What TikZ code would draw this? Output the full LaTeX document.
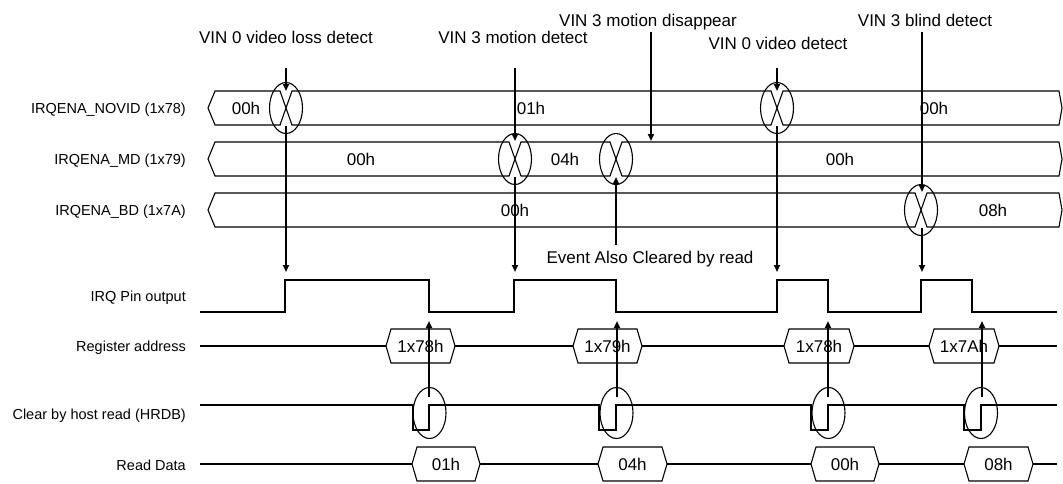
\documentclass[tikz,border=0pt]{standalone}
\usepackage{fontspec}
\setmainfont{Liberation Sans}
\usetikzlibrary{arrows.meta,shapes.geometric}
\newcommand\hexbox[5]{%
  \draw[hexb] (#2,#4) -- (#2+5,#4-17) -- (#3-5,#4-17) -- (#3,#4) -- (#3-5,#4+17) -- (#2+5,#4+17) -- cycle;
  \node[val] (#1) at ({(#2+#3)/2},#4) {#5};}
\begin{document}
\begin{tikzpicture}[x=1pt,y=-1pt,
  sig/.style={line width=1.1pt,line join=miter},
  evarrow/.style={line width=1.8pt,-{Triangle[length=7pt,width=6pt]}},
  ring/.style={draw,ellipse,line width=1.1pt,minimum width=33pt,minimum height=51pt,inner sep=0pt},
  val/.style={font=\fontsize{17}{20}\selectfont,inner sep=0pt},
  lab/.style={font=\fontsize{14.5}{17}\selectfont,anchor=base east,inner sep=0pt},
  ev/.style={font=\fontsize{17}{20}\selectfont,anchor=base,inner sep=0pt},
  hexb/.style={sig,fill=white}]
\useasboundingbox (0,0) rectangle (1063,483);

% left labels
\node[lab] (lnovid) at (186,113) {IRQENA\_NOVID (1x78)};
\node[lab] (lmd)    at (186,164) {IRQENA\_MD (1x79)};
\node[lab] (lbd)    at (186,215) {IRQENA\_BD (1x7A)};
\node[lab] (lirq)   at (186,301) {IRQ Pin output};
\node[lab] (lreg)   at (186,351) {Register address};
\node[lab] (lhrdb)  at (186,419) {Clear by host read (HRDB)};
\node[lab] (lrd)    at (186,470) {Read Data};

% buses
\draw[sig] (215,91) -- (280,91) -- (292,125) -- (771,125) -- (783,91) -- (1059,91) -- (1062,108) -- (1059,125) -- (783,125) -- (771,91) -- (292,91) -- (280,125) -- (215,125) -- (208,108) -- cycle;
\draw[sig] (215,142) -- (509,142) -- (521,176) -- (610,176) -- (622,142) -- (1059,142) -- (1062,159) -- (1059,176) -- (622,176) -- (610,142) -- (521,142) -- (509,176) -- (215,176) -- (208,159) -- cycle;
\draw[sig] (215,193) -- (915,193) -- (927,227) -- (1059,227) -- (1062,210) -- (1059,193) -- (927,193) -- (915,227) -- (215,227) -- (208,210) -- cycle;

% bus values
\node[val] (n1) at (246,108) {00h};
\node[val] (n2) at (531,108) {01h};
\node[val] (n3) at (934,108) {00h};
\node[val] (m1) at (361,159) {00h};
\node[val] (m2) at (565,159) {04h};
\node[val] (m3) at (840,159) {00h};
\node[val] (b1) at (515,210) {00h};
\node[val] (b2) at (993,210) {08h};

% transition rings
\node[ring] (rn1) at (286,108) {};
\node[ring] (rn2) at (777,108) {};
\node[ring] (rm1) at (515,159) {};
\node[ring] (rm2) at (616,159) {};
\node[ring] (rb1) at (921,210) {};

% IRQ pin
\draw[sig] (200,312) -- (285,312) -- (285,280) -- (429,280) -- (429,312) -- (514,312) -- (514,280) -- (616,280) -- (616,312) -- (777,312) -- (777,280) -- (828,280) -- (828,312) -- (921,312) -- (921,280) -- (972,280) -- (972,312) -- (1057,312);

% register address
\draw[sig] (200,346) -- (1057,346);
\hexbox{ra1}{386}{455}{346}{1x78h}
\hexbox{ra2}{573}{642}{346}{1x79h}
\hexbox{ra3}{784}{854}{346}{1x78h}
\hexbox{ra4}{929}{999}{346}{1x7Ah}

% HRDB
\draw[sig] (200,405) -- (413,405) -- (413,430) -- (429,430) -- (429,405) -- (599,405) -- (599,430) -- (616,430) -- (616,405) -- (811,405) -- (811,430) -- (828,430) -- (828,405) -- (964,405) -- (964,430) -- (981,430) -- (981,405) -- (1057,405);
\node[ring] (rh1) at (429.5,413) {};
\node[ring] (rh2) at (616.5,413) {};
\node[ring] (rh3) at (828.5,413) {};
\node[ring] (rh4) at (981,413) {};

% read data
\draw[sig] (200,464) -- (1057,464);
\hexbox{rd1}{412}{480}{464}{01h}
\hexbox{rd2}{598}{667}{464}{04h}
\hexbox{rd3}{811}{879}{464}{00h}
\hexbox{rd4}{964}{1033}{464}{08h}

% event labels
\node[ev] (t1) at (286,43) {VIN 0 video loss detect};
\node[ev] (t2) at (513,43) {VIN 3 motion detect};
\node[ev] (t3) at (648,26) {VIN 3 motion disappear};
\node[ev] (t4) at (778,49) {VIN 0 video detect};
\node[ev] (t5) at (925,26) {VIN 3 blind detect};
\node[ev] (t6) at (650,263) {Event Also Cleared by read};

% arrow end points
\coordinate (a1s) at (286,68);  \coordinate (a1e) at (286,91);
\coordinate (a1b) at (286,126); \coordinate (a1i) at (286,272);
\coordinate (a2s) at (515,68);  \coordinate (a2e) at (515,141);
\coordinate (a2b) at (515,177); \coordinate (a2i) at (515,272);
\coordinate (a3s) at (651,32);  \coordinate (a3e) at (651,141);
\coordinate (a4s) at (777,68);  \coordinate (a4e) at (777,91);
\coordinate (a4b) at (777,126); \coordinate (a4i) at (777,272);
\coordinate (a5s) at (922,32);  \coordinate (a5e) at (922,192);
\coordinate (a5b) at (922,228); \coordinate (a5i) at (922,272);
\coordinate (a6s) at (616,245); \coordinate (a6e) at (616,177);
\coordinate (h1s) at (429,397); \coordinate (h1e) at (429,321);
\coordinate (h2s) at (617,397); \coordinate (h2e) at (617,321);
\coordinate (h3s) at (828,397); \coordinate (h3e) at (828,321);
\coordinate (h4s) at (982,397); \coordinate (h4e) at (982,321);

\draw[evarrow] (a1s) -- (a1e);
\draw[evarrow] (a1b) -- (a1i);
\draw[evarrow] (a2s) -- (a2e);
\draw[evarrow] (a2b) -- (a2i);
\draw[evarrow] (a3s) -- (a3e);
\draw[evarrow] (a4s) -- (a4e);
\draw[evarrow] (a4b) -- (a4i);
\draw[evarrow] (a5s) -- (a5e);
\draw[evarrow] (a5b) -- (a5i);
\draw[evarrow] (a6s) -- (a6e);
\draw[evarrow] (h1s) -- (h1e);
\draw[evarrow] (h2s) -- (h2e);
\draw[evarrow] (h3s) -- (h3e);
\draw[evarrow] (h4s) -- (h4e);
\end{tikzpicture}
\end{document}
